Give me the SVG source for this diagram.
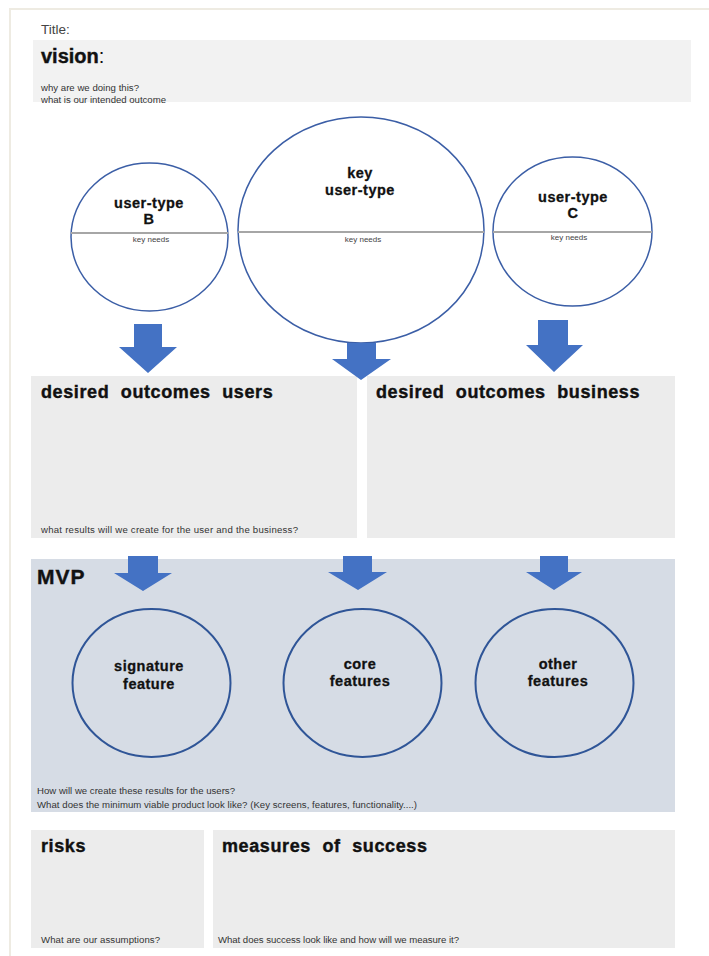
<svg xmlns="http://www.w3.org/2000/svg" width="709" height="956" viewBox="0 0 709 956">
<style>
.frame{fill:#ffffff;stroke:#eeebe2;stroke-width:2}
.box{fill:#ececec}
.vbox{fill:#f2f2f2}
.mvp{fill:#d6dce5}
.circ{fill:#ffffff;stroke:#3b5ea6;stroke-width:1.5}
.fcirc{fill:none;stroke:#2f5597;stroke-width:2}
.sep{stroke:#a6a6a6;stroke-width:2}
.arrow{fill:#4472c4}
.h{font-family:"Liberation Sans",Arial,sans-serif;font-weight:bold;fill:#111;stroke:#111;stroke-width:0.4}
.h2{font-size:18px;letter-spacing:0.6px;word-spacing:6px}
.ct{font-family:"Liberation Sans",Arial,sans-serif;font-weight:bold;fill:#111;stroke:#111;stroke-width:0.3;font-size:14.5px;letter-spacing:0.5px;text-anchor:middle}
.s{font-family:"Liberation Sans",Arial,sans-serif;fill:#333;font-size:9.6px}
.kn{font-family:"Liberation Sans",Arial,sans-serif;fill:#444;font-size:8px;text-anchor:middle}
</style>
<rect x="10" y="9" width="710" height="960" class="frame"/>
<text x="41" y="34" font-family="'Liberation Sans',sans-serif" font-size="13.5" fill="#444">Title:</text>

<g id="vision">
<rect x="33" y="40" width="658" height="62" class="vbox"/>
<text x="41" y="63" class="h" font-size="20">vision<tspan font-weight="normal" stroke-width="0">:</tspan></text>
<text x="41" y="91" class="s" textLength="98">why are we doing this?</text>
<text x="41" y="103" class="s" textLength="125">what is our intended outcome</text>
</g>

<g id="user-type-b">
<ellipse cx="149.5" cy="237" rx="78.5" ry="74" class="circ"/>
<line x1="71" y1="233" x2="228" y2="233" class="sep"/>
<text x="149" y="208" class="ct">user-type</text>
<text x="149" y="224" class="ct">B</text>
<text x="151" y="242" class="kn">key needs</text>
</g>

<g id="key-user-type">
<ellipse cx="361" cy="230" rx="123" ry="113" class="circ"/>
<line x1="238" y1="232" x2="484" y2="232" class="sep"/>
<text x="360" y="178" class="ct">key</text>
<text x="360" y="195" class="ct">user-type</text>
<text x="363" y="242" class="kn">key needs</text>
</g>

<g id="user-type-c">
<ellipse cx="572.5" cy="231.5" rx="79.5" ry="74.5" class="circ"/>
<line x1="493" y1="232" x2="652" y2="232" class="sep"/>
<text x="573" y="202" class="ct">user-type</text>
<text x="573" y="218" class="ct">C</text>
<text x="569" y="240" class="kn">key needs</text>
</g>

<g id="desired-users">
<rect x="31" y="376" width="326" height="162" class="box"/>
<text x="41" y="398" class="h h2">desired outcomes users</text>
<text x="41" y="533" class="s" textLength="257">what results will we create for the user and the business?</text>
</g>

<g id="desired-business">
<rect x="367" y="376" width="308" height="162" class="box"/>
<text x="376" y="398" class="h h2">desired outcomes business</text>
</g>

<g id="mvp">
<rect x="31" y="559" width="644" height="253" class="mvp"/>
<text x="37" y="584" class="h" font-size="21" letter-spacing="1">MVP</text>
<text x="37" y="794" class="s" textLength="198">How will we create these results for the users?</text>
<text x="37" y="808" class="s" textLength="380">What does the minimum viable product look like? (Key screens, features, functionality....)</text>
</g>

<g id="signature-feature">
<ellipse cx="151.5" cy="683" rx="79" ry="74" class="fcirc"/>
<text x="149" y="671" class="ct">signature</text>
<text x="149" y="689" class="ct">feature</text>
</g>
<g id="core-features">
<ellipse cx="362.5" cy="683" rx="79" ry="74" class="fcirc"/>
<text x="360" y="669" class="ct">core</text>
<text x="360" y="686" class="ct">features</text>
</g>
<g id="other-features">
<ellipse cx="554.5" cy="683" rx="79" ry="74" class="fcirc"/>
<text x="558" y="669" class="ct">other</text>
<text x="558" y="686" class="ct">features</text>
</g>

<g id="risks">
<rect x="31" y="830" width="173" height="118" class="box"/>
<text x="41" y="852" class="h h2">risks</text>
<text x="41" y="943" class="s" textLength="119">What are our assumptions?</text>
</g>

<g id="measures">
<rect x="213" y="830" width="462" height="118" class="box"/>
<text x="222" y="852" class="h h2">measures of success</text>
<text x="218" y="943" class="s" textLength="241">What does success look like and how will we measure it?</text>
</g>

<g id="connectors">
<polygon class="arrow" points="134,324 162,324 162,347 177,347 148,373 119,347 134,347"/>
<polygon class="arrow" points="347,343 376,343 376,359 391,359 361,380 332,359 347,359"/>
<polygon class="arrow" points="538,320 568,320 568,345 583,345 554,372 526,345 538,345"/>
<polygon class="arrow" points="128,556 158,556 158,573 172,573 143,591 114,573 128,573"/>
<polygon class="arrow" points="343,556 372,556 372,572 387,572 358,590 328,572 343,572"/>
<polygon class="arrow" points="540,556 568,556 568,572 582,572 554,590 526,572 540,572"/>
</g>
</svg>
